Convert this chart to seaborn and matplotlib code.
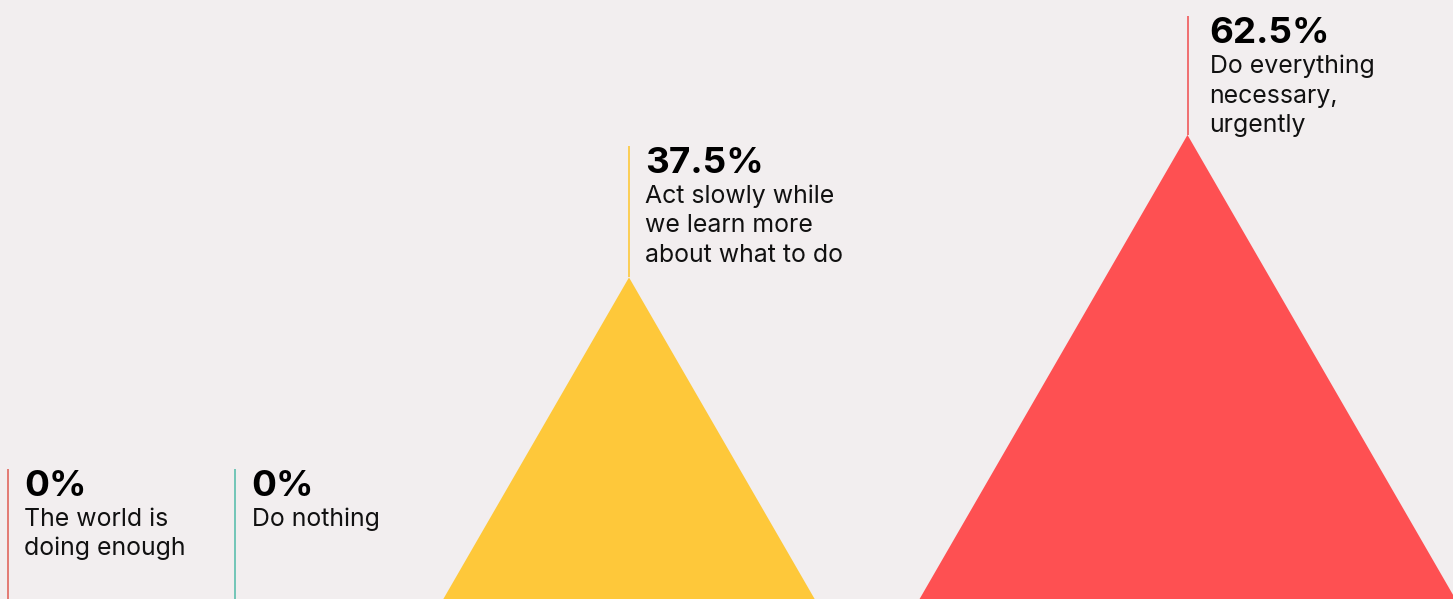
import numpy as np
import matplotlib
matplotlib.use("Agg")
import matplotlib.pyplot as plt
import seaborn as sns
from matplotlib.transforms import blended_transform_factory, IdentityTransform

# Survey responses: share of respondents per answer
answers = [
    ["The world is", "doing enough"],
    ["Do nothing"],
    ["Act slowly while", "we learn more", "about what to do"],
    ["Do everything", "necessary,", "urgently"],
]
shares = [0.0, 0.0, 37.5, 62.5]
pct_labels = ["0%", "0%", "37.5%", "62.5%"]

# Styling and layout
fill_colors = ["#E8685E", "#5CBFAE", "#FEC83A", "#FE5052"]
line_colors = ["#E0675E", "#5CBFAE", "#FEC83A", "#F0585A"]
bg = "#F2EEEF"
W, H, DPI = 1453, 599, 100
x_pos = [7.5, 234.5, 629, 1187.5]
label_top_px = [469, 469, 146, 16]
text_dx = [17, 17, 16, 22]

sns.set_theme(style="white", rc={"axes.facecolor": bg, "figure.facecolor": bg})
plt.rcParams["font.family"] = ["Inter", "DejaVu Sans"]

fig = plt.figure(figsize=(W / DPI, H / DPI), dpi=DPI)
ax = fig.add_axes([0, 0, 1, 1])
ax.set_facecolor(bg)

# area-proportional peaks: height follows the square root of the share
ax.set_yscale("function", functions=(lambda v: np.sqrt(np.clip(v, 0, None)), np.square))
ymin, ymax = 4.42, 92.03
ax.set_xlim(0, W)
ax.set_ylim(ymin, ymax)
sns.despine(ax=ax, left=True, bottom=True)
ax.set_xticks([])
ax.set_yticks([])

px_per_s = H / (np.sqrt(ymax) - np.sqrt(ymin))
tan30 = np.tan(np.radians(30))

for x, v, c in zip(x_pos, shares, fill_colors):
    if v <= 0:
        continue
    hw = np.sqrt(v) * px_per_s * tan30
    ax.fill([x - hw, x, x + hw], [0, v, 0], color=c, lw=0, zorder=2)

trans = blended_transform_factory(ax.transData, IdentityTransform())
for i, (x, v, lc) in enumerate(zip(x_pos, shares, line_colors)):
    top = H - label_top_px[i]
    if v > 0:
        bottom = ax.transData.transform((x, v))[1]
    else:
        bottom = 0
    ax.plot([x, x], [bottom, top], color=lc, lw=1.2, transform=trans, zorder=3,
            solid_capstyle="butt")
    base = label_top_px[i] + 27
    tx = x + text_dx[i]
    ax.text(tx, H - base, pct_labels[i], transform=trans, fontsize=26.5,
            fontweight="bold", color="#000000", va="baseline", ha="left")
    for j, line in enumerate(answers[i]):
        yb = base + 30 + 29.5 * j
        ax.text(tx, H - yb, line, transform=trans, fontsize=17.9,
                color="#111111", va="baseline", ha="left")

fig.savefig("out.png", dpi=DPI, facecolor=bg)
